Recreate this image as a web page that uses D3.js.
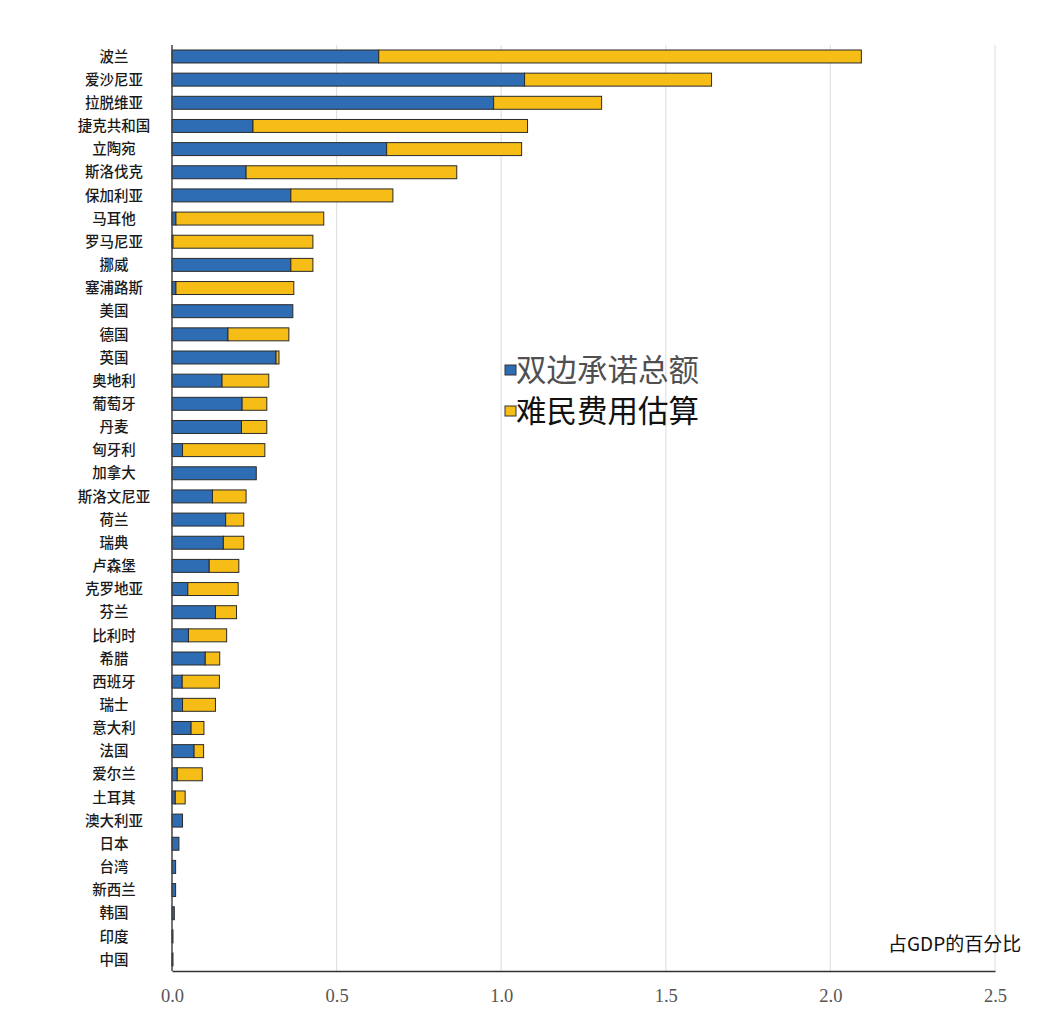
<!DOCTYPE html>
<html>
<head>
<meta charset="utf-8">
<script src="https://cdn.jsdelivr.net/npm/d3@7"></script>
<style>
  html, body { margin: 0; padding: 0; background: #fff; }
  svg { display: block; }
</style>
</head>
<body>
<svg id="chart" width="1048" height="1034"></svg>
<script>
const countries = ["波兰","爱沙尼亚","拉脱维亚","捷克共和国","立陶宛","斯洛伐克","保加利亚","马耳他","罗马尼亚","挪威","塞浦路斯","美国","德国","英国","奥地利","葡萄牙","丹麦","匈牙利","加拿大","斯洛文尼亚","荷兰","瑞典","卢森堡","克罗地亚","芬兰","比利时","希腊","西班牙","瑞士","意大利","法国","爱尔兰","土耳其","澳大利亚","日本","台湾","新西兰","韩国","印度","中国"];
const bilateral = [0.628,1.071,0.977,0.246,0.652,0.225,0.361,0.012,0.003,0.361,0.012,0.367,0.170,0.316,0.152,0.213,0.211,0.032,0.256,0.123,0.163,0.156,0.113,0.048,0.132,0.050,0.101,0.031,0.032,0.058,0.067,0.016,0.010,0.032,0.021,0.011,0.011,0.007,0.003,0.003];
const refugee = [1.466,0.568,0.328,0.834,0.410,0.640,0.310,0.449,0.425,0.067,0.358,0.000,0.185,0.009,0.142,0.075,0.077,0.250,0.000,0.102,0.055,0.062,0.090,0.153,0.064,0.116,0.044,0.113,0.100,0.039,0.029,0.076,0.030,0.000,0.000,0.000,0.000,0.000,0.000,0.000];
const seriesNames = ["双边承诺总额","难民费用估算"];
const seriesColors = ["#2e6db4","#f6bd16"];
const xTicks = [0, 0.5, 1.0, 1.5, 2.0, 2.5];
const xTitle = "占GDP的百分比";

const svg = d3.select("#chart");
const mLeft = 172, mRight = 995, mTop = 45, mBottom = 971;

const x = d3.scaleLinear().domain([0, 2.5]).range([mLeft, mRight]);
const y = d3.scaleBand().domain(countries).range([mTop, mBottom]).paddingInner(0.44).paddingOuter(0.216);

// gridlines
svg.append("g").selectAll("line").data(xTicks.slice(1)).join("line")
  .attr("x1", d => x(d)).attr("x2", d => x(d))
  .attr("y1", mTop).attr("y2", mBottom)
  .attr("stroke", "#e2e2e2").attr("stroke-width", 1.2);

const rows = countries.map((c, i) => ({c, b: bilateral[i], r: refugee[i]}));

// bilateral bars
svg.append("g").selectAll("rect").data(rows).join("rect")
  .attr("x", x(0))
  .attr("y", d => y(d.c))
  .attr("width", d => Math.max(0.6, x(d.b) - x(0)))
  .attr("height", y.bandwidth())
  .attr("fill", seriesColors[0])
  .attr("stroke", "#2a2a2a").attr("stroke-width", 1);

// refugee bars
svg.append("g").selectAll("rect").data(rows.filter(d => d.r > 0)).join("rect")
  .attr("x", d => x(d.b))
  .attr("y", d => y(d.c))
  .attr("width", d => x(d.b + d.r) - x(d.b))
  .attr("height", y.bandwidth())
  .attr("fill", seriesColors[1])
  .attr("stroke", "#2a2a2a").attr("stroke-width", 1);

// country labels
svg.append("g").selectAll("text").data(countries).join("text")
  .attr("x", 114)
  .attr("y", d => y(d) + y.bandwidth() / 2)
  .attr("dy", "0.36em")
  .attr("text-anchor", "middle")
  .attr("font-family", "'Noto Sans CJK SC', sans-serif")
  .attr("font-size", 14.5)
  .attr("font-weight", 500)
  .attr("fill", "#1a1a1a")
  .text(d => d);

// axes lines
svg.append("line").attr("x1", mLeft).attr("x2", mLeft).attr("y1", mTop).attr("y2", mBottom)
  .attr("stroke", "#444").attr("stroke-width", 1.5);
const xAxis = d3.axisBottom(x).tickValues(xTicks).tickFormat(d3.format(".1f")).tickSize(0).tickPadding(18);
const gx = svg.append("g").attr("transform", `translate(0,${mBottom})`).call(xAxis);
gx.select(".domain").attr("stroke", "#333").attr("stroke-width", 1.5);
gx.selectAll("text")
  .attr("font-family", "'Liberation Serif', 'Times New Roman', serif")
  .attr("font-size", 18.5)
  .attr("fill", "#555");

// axis title
svg.append("text").attr("x", 888).attr("y", 951)
  .attr("font-family", "'Noto Sans CJK SC', sans-serif")
  .attr("font-size", 19)
  .attr("fill", "#111")
  .text(xTitle);

// legend
const legend = svg.append("g");
const legendY = [370, 411];
const legendText = ["#505050", "#111"];
seriesNames.forEach((n, i) => {
  legend.append("rect").attr("x", 505).attr("y", legendY[i] - 5).attr("width", 11).attr("height", 10)
    .attr("fill", seriesColors[i]).attr("stroke", "#333").attr("stroke-width", 1);
  legend.append("text").attr("x", 516).attr("y", legendY[i]).attr("dy", "0.36em")
    .attr("font-family", "'Noto Sans CJK SC', sans-serif")
    .attr("font-size", 30.5)
    .attr("fill", legendText[i])
    .text(n);
});
</script>
</body>
</html>
